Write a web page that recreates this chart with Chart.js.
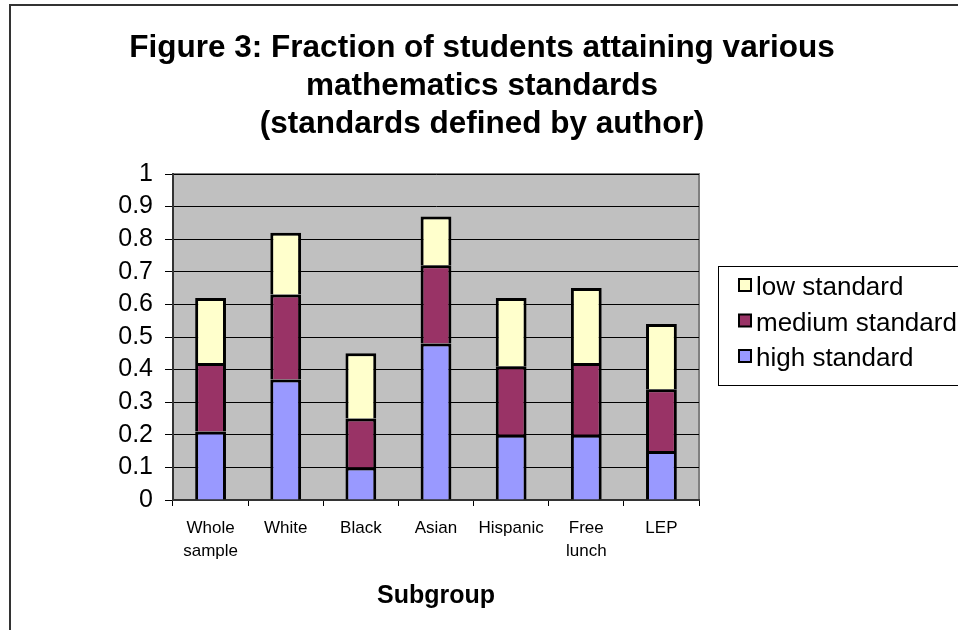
<!DOCTYPE html>
<html>
<head>
<meta charset="utf-8">
<script src="https://cdn.jsdelivr.net/npm/chart.js@4"></script>
<style>
  html, body { margin: 0; padding: 0; background: #fff; }
  #wrap { width: 958px; height: 630px; }
</style>
</head>
<body>
<div id="wrap"><canvas id="standardsChart" width="958" height="630"></canvas></div>
<script>
const categories = [['Whole', 'sample'], 'White', 'Black', 'Asian', 'Hispanic', ['Free', 'lunch'], 'LEP'];
const highStandard = [0.21, 0.37, 0.10, 0.48, 0.20, 0.20, 0.15];
const mediumStandard = [0.21, 0.26, 0.15, 0.24, 0.21, 0.22, 0.19];
const lowStandard = [0.20, 0.19, 0.20, 0.15, 0.21, 0.23, 0.20];
const titleLines = ['Figure 3: Fraction of students attaining various', 'mathematics standards', '(standards defined by author)'];
const xTitle = 'Subgroup';

const FONT = '"Liberation Sans", Arial, sans-serif';

// background, plot area, frame, title and legend
const decor = {
    id: 'decor',
    beforeDraw(chart) {
        const { ctx, chartArea: a } = chart;
        ctx.save();
        ctx.fillStyle = '#fff';
        ctx.fillRect(0, 0, chart.width, chart.height);
        ctx.fillStyle = '#c0c0c0';
        ctx.fillRect(a.left, a.top, a.width, a.height);
        ctx.strokeStyle = '#808080';
        ctx.lineWidth = 2;
        ctx.beginPath();
        ctx.moveTo(a.left, a.top);
        ctx.lineTo(a.right, a.top);
        ctx.lineTo(a.right, a.bottom);
        ctx.stroke();
        ctx.restore();
    },
    afterDraw(chart) {
        const ctx = chart.ctx;
        ctx.save();
        // outer frame (left + top only visible)
        ctx.strokeStyle = '#333';
        ctx.lineWidth = 2;
        ctx.beginPath();
        ctx.moveTo(10, 630);
        ctx.lineTo(10, 5);
        ctx.lineTo(958, 5);
        ctx.stroke();

        // title
        ctx.fillStyle = '#000';
        ctx.font = 'bold 31.5px ' + FONT;
        ctx.textAlign = 'center';
        ctx.textBaseline = 'alphabetic';
        titleLines.forEach((t, i) => ctx.fillText(t, 482, 57 + i * 38));

        // legend
        ctx.strokeStyle = '#000';
        ctx.lineWidth = 1;
        ctx.strokeRect(718.5, 266.5, 260, 119);
        const items = chart.data.datasets.slice().reverse();
        ctx.font = '26px ' + FONT;
        ctx.textAlign = 'left';
        ctx.textBaseline = 'alphabetic';
        items.forEach((ds, i) => {
            const y = 295 + i * 35.5;
            ctx.fillStyle = ds.backgroundColor;
            ctx.fillRect(739, y - 16, 12, 12);
            ctx.lineWidth = 2;
            ctx.strokeRect(739, y - 16, 12, 12);
            ctx.fillStyle = '#000';
            ctx.fillText(ds.label, 756, y);
        });
        ctx.restore();
    }
};

new Chart(document.getElementById('standardsChart'), {
    type: 'bar',
    data: {
        labels: categories,
        datasets: [
            { label: 'high standard', data: highStandard, backgroundColor: '#9999ff' },
            { label: 'medium standard', data: mediumStandard, backgroundColor: '#993366' },
            { label: 'low standard', data: lowStandard, backgroundColor: '#ffffcc' }
        ]
    },
    options: {
        responsive: false,
        animation: false,
        layout: { padding: { top: 174, right: 259, bottom: 0, left: 0 } },
        datasets: {
            bar: {
                borderColor: '#000',
                borderWidth: 3,
                barPercentage: 0.41,
                categoryPercentage: 1
            }
        },
        plugins: {
            legend: { display: false },
            title: { display: false },
            tooltip: { enabled: false }
        },
        scales: {
            x: {
                stacked: true,
                ticks: {
                    color: '#000',
                    font: { family: FONT, size: 17, lineHeight: 1.4 },
                    padding: 10,
                    maxRotation: 0,
                    autoSkip: false
                },
                grid: { drawOnChartArea: false, color: '#000', tickLength: 6, offset: true },
                border: { color: '#333', width: 2 },
                title: {
                    display: true, text: xTitle, color: '#000',
                    font: { family: FONT, size: 25, weight: 'bold' },
                    padding: { top: 0, bottom: 19 }
                },
                afterFit(scale) { scale.height = 130; }
            },
            y: {
                stacked: true,
                min: 0,
                max: 1,
                ticks: {
                    stepSize: 0.1,
                    autoSkip: false,
                    color: '#000',
                    font: { family: FONT, size: 25 },
                    padding: 12,
                    callback: v => String(Math.round(v * 10) / 10)
                },
                grid: { color: '#000', lineWidth: 1, tickLength: 8 },
                border: { color: '#333', width: 2 },
                afterFit(scale) { scale.width = 173; }
            }
        }
    },
    plugins: [decor]
});
</script>
</body>
</html>
